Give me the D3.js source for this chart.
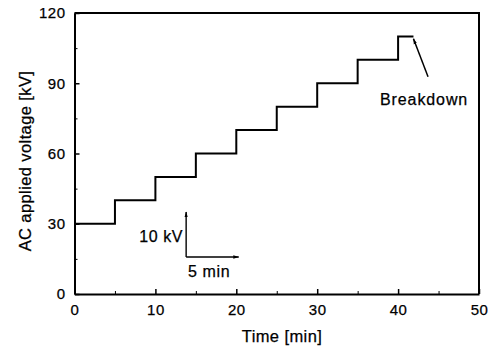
<!DOCTYPE html>
<html>
<head>
<meta charset="utf-8">
<script src="https://cdn.jsdelivr.net/npm/d3@7"></script>
<style>
  body { margin: 0; background: #fff; }
  text { font-family: "Liberation Sans", Arial, sans-serif; fill: #000; stroke: #000; stroke-width: 0.25px; }
</style>
</head>
<body>
<div id="chart"></div>
<script>
"use strict";

// step data
const stepTime = [0, 5, 10, 15, 20, 25, 30, 35, 40, 41.9];
const stepVoltage = [30, 40, 50, 60, 70, 80, 90, 100, 110, 110];

const xTicks = [0, 10, 20, 30, 40, 50];
const yTicks = [0, 30, 60, 90, 120];
const xMinor = [5, 15, 25, 35, 45];
const yMinor = [15, 45, 75, 105];

// annotation anchors in data units
const breakdownFrom = [43.7, 92.8];
const breakdownTo = [41.9, 109.0];
const scaleOrigin = [13.8, 15.8];
const scaleTopV = 35.0;
const scaleRightT = 20.3;

const width = 492, height = 350;
const margin = { left: 74.5, right: 13, top: 13, bottom: 56 };

const svg = d3.select("#chart").append("svg")
    .attr("width", width)
    .attr("height", height);

const x = d3.scaleLinear().domain([0, 50]).range([margin.left, width - margin.right]);
const y = d3.scaleLinear().domain([0, 120]).range([height - margin.bottom, margin.top]);

// small filled arrow head
svg.append("defs").append("marker")
    .attr("id", "arr")
    .attr("viewBox", "0 0 10 10")
    .attr("refX", 9).attr("refY", 5)
    .attr("markerWidth", 6).attr("markerHeight", 6)
    .attr("markerUnits", "userSpaceOnUse")
    .attr("orient", "auto")
    .append("path")
    .attr("d", "M0,2.2 L10,5 L0,7.8 Z")
    .attr("fill", "#000");

// axes with inward ticks
const gx = svg.append("g").attr("transform", `translate(0,${y(0)})`)
    .call(d3.axisBottom(x).tickValues(xTicks).tickSizeInner(-5).tickSizeOuter(0).tickPadding(10));
const gy = svg.append("g").attr("transform", `translate(${x(0)},0)`)
    .call(d3.axisLeft(y).tickValues(yTicks).tickSizeInner(-5).tickSizeOuter(0).tickPadding(9));

svg.append("g").attr("transform", `translate(0,${y(0)})`)
    .call(d3.axisBottom(x).tickValues(xMinor).tickSize(-3).tickFormat(""))
    .select(".domain").remove();
svg.append("g").attr("transform", `translate(${x(0)},0)`)
    .call(d3.axisLeft(y).tickValues(yMinor).tickSize(-3).tickFormat(""))
    .select(".domain").remove();

for (const g of [gx, gy]) {
    g.selectAll("text")
        .style("font-size", "15px")
        .style("letter-spacing", "0.5px")
        .style("font-family", "Liberation Sans, Arial, sans-serif");
    g.select(".domain").attr("stroke-width", 2);
    g.selectAll(".tick line").attr("stroke-width", 1.5);
}

// frame (top / right)
svg.append("path")
    .attr("d", `M${x(0)},${y(120)} H${x(50)} V${y(0)}`)
    .attr("fill", "none")
    .attr("stroke", "#000")
    .attr("stroke-width", 2);

// step line
const pts = stepTime.map((t, i) => [t, stepVoltage[i]]);
svg.append("path")
    .datum(pts)
    .attr("fill", "none")
    .attr("stroke", "#000")
    .attr("stroke-width", 2)
    .attr("d", d3.line().x(d => x(d[0])).y(d => y(d[1])).curve(d3.curveStepAfter));

// breakdown arrow + label
svg.append("line")
    .attr("x1", x(breakdownFrom[0])).attr("y1", y(breakdownFrom[1]))
    .attr("x2", x(breakdownTo[0])).attr("y2", y(breakdownTo[1]))
    .attr("stroke", "#000").attr("stroke-width", 1.5)
    .attr("marker-end", "url(#arr)");
svg.append("text")
    .attr("x", 380).attr("y", 105)
    .style("font-size", "16px")
    .style("letter-spacing", "0.9px")
    .text("Breakdown");

// scale bar
svg.append("line")
    .attr("x1", x(scaleOrigin[0])).attr("y1", y(scaleOrigin[1]))
    .attr("x2", x(scaleOrigin[0])).attr("y2", y(scaleTopV))
    .attr("stroke", "#000").attr("stroke-width", 1.4)
    .attr("marker-end", "url(#arr)");
svg.append("line")
    .attr("x1", x(scaleOrigin[0])).attr("y1", y(scaleOrigin[1]))
    .attr("x2", x(scaleRightT)).attr("y2", y(scaleOrigin[1]))
    .attr("stroke", "#000").attr("stroke-width", 1.4)
    .attr("marker-end", "url(#arr)");
svg.append("text")
    .attr("x", x(scaleOrigin[0]) - 3).attr("y", 242)
    .attr("text-anchor", "end")
    .style("font-size", "16px")
    .style("letter-spacing", "0.6px")
    .text("10 kV");
svg.append("text")
    .attr("x", 188).attr("y", 277)
    .style("font-size", "16px")
    .style("letter-spacing", "0.6px")
    .text("5 min");

// axis titles
svg.append("text")
    .attr("x", 282).attr("y", 342)
    .attr("text-anchor", "middle")
    .style("font-size", "16.5px")
    .style("letter-spacing", "0.4px")
    .text("Time [min]");
svg.append("text")
    .attr("transform", "translate(31,161) rotate(-90)")
    .attr("text-anchor", "middle")
    .style("font-size", "16.5px")
    .style("letter-spacing", "0.4px")
    .text("AC applied voltage [kV]");
</script>
</body>
</html>
